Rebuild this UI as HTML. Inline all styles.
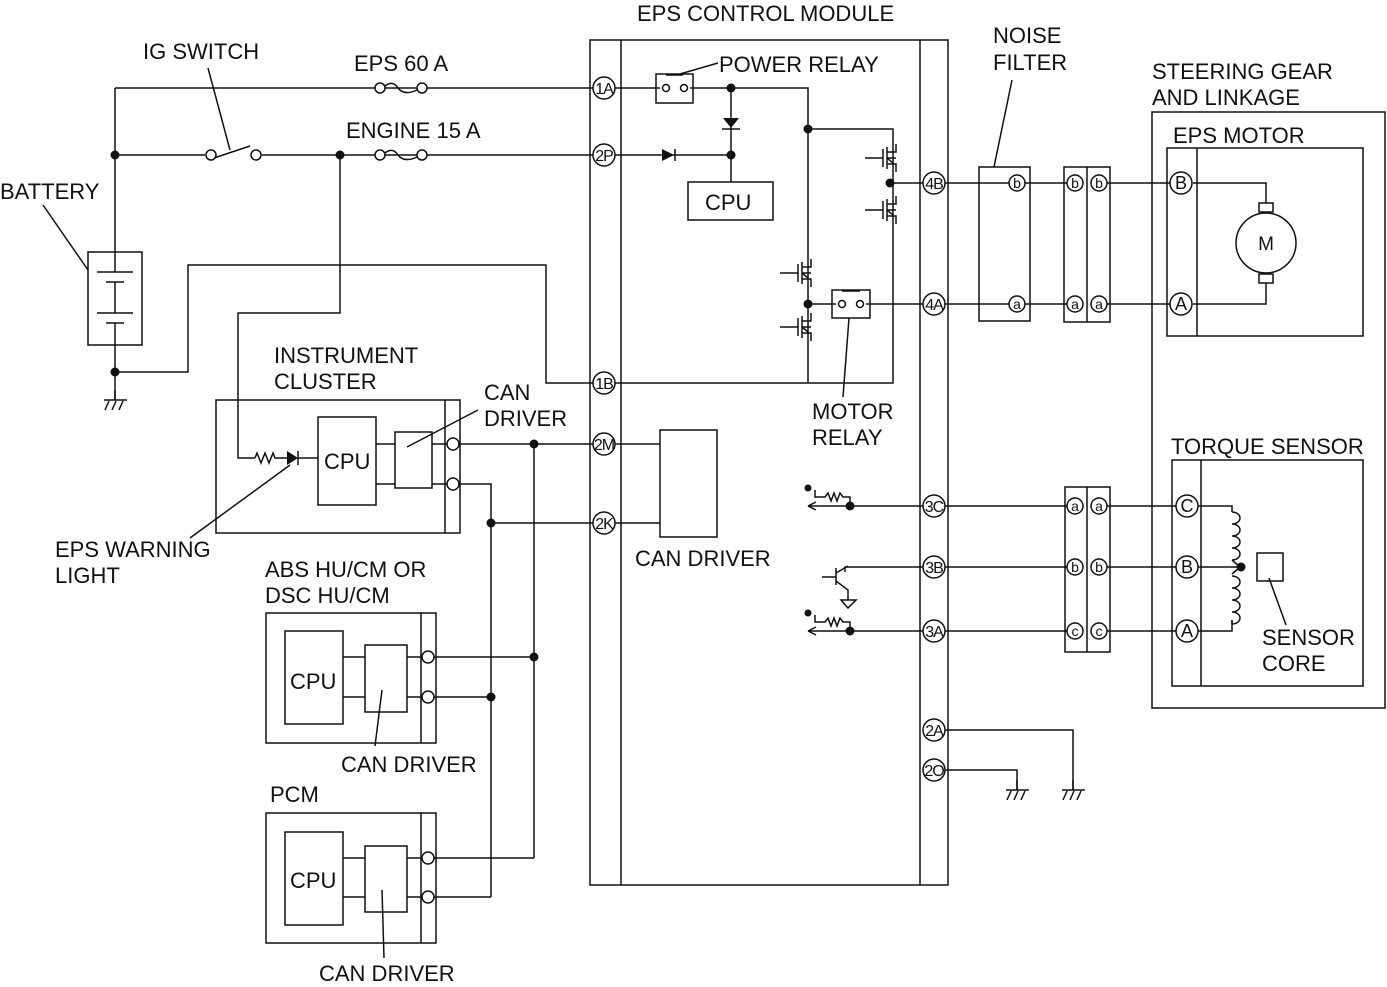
<!DOCTYPE html>
<html><head><meta charset="utf-8"><style>
html,body{margin:0;padding:0;background:#fff}
svg{display:block}
text{font-family:"Liberation Sans",sans-serif;font-size:22px;fill:#111}
.t{font-size:16px;text-anchor:middle;letter-spacing:-1px}
</style></head><body>
<svg width="1387" height="987" viewBox="0 0 1387 987" xmlns="http://www.w3.org/2000/svg">
<defs>
<g id="gnd"><line x1="0" y1="0" x2="0" y2="10" stroke="#111" stroke-width="1.5"/><line x1="-11" y1="10" x2="12" y2="10" stroke="#111" stroke-width="1.5"/><line x1="-6" y1="11" x2="-10" y2="20" stroke="#111" stroke-width="1.5"/><line x1="1" y1="11" x2="-3" y2="20" stroke="#111" stroke-width="1.5"/><line x1="8" y1="11" x2="4" y2="20" stroke="#111" stroke-width="1.5"/></g>
<g id="fuse" fill="#fff" stroke="#111" stroke-width="1.5"><circle cx="-21" cy="0" r="5"/><circle cx="21" cy="0" r="5"/><path d="M-16,-2 Q-8,-8 -3,0 Q3,8 16,2" fill="none"/></g>
<g id="fet" stroke="#111" stroke-width="1.5" fill="none"><line x1="-28" y1="0" x2="-10" y2="0"/><line x1="-10" y1="-9" x2="-10" y2="9"/><line x1="-6" y1="-11" x2="-6" y2="11"/><path d="M-6,-6 H3 V-14 M-6,6 H3 V14 M-6,0 l6,5 M-6,0 H3"/></g>
</defs>
<g stroke="#111" stroke-width="1.5" fill="none">
<rect x="590" y="40" width="358" height="845"/>
<line x1="621" y1="40" x2="621" y2="885"/><line x1="920" y1="40" x2="920" y2="885"/>
<path d="M115,88 H593 M115,88 V252 M115,345 V400 M115,155 H205 M262,155 H593 M340,155 V313 H238 V458 H255"/>
<path d="M115,372 H188 V265 H546 V383 H593"/>
<line x1="214" y1="158" x2="250" y2="146"/>
<line x1="230" y1="150" x2="208" y2="68"/>
<rect x="88" y="252" width="54" height="93"/>
<path d="M115,252 V272 M97,272 H133 M106,282 H124 M115,282 V313 M97,313 H133 M106,323 H124 M115,323 V345"/>
<line x1="88" y1="270" x2="43" y2="205"/>
<path d="M615,88 H660 M690,88 H808 V383 M615,383 H893 V129 H808 M893,183 H923 M808,304 H836 M866,304 H923 M615,155 H731 V182 M731,88 V155"/>
<rect x="656" y="74" width="37" height="29"/><line x1="666" y1="75" x2="683" y2="75"/>
<line x1="680" y1="74" x2="718" y2="63"/>
<rect x="832" y="290" width="38" height="28"/><line x1="842" y1="291" x2="860" y2="291"/>
<line x1="849" y1="318" x2="843" y2="397"/>
<rect x="688" y="182" width="85" height="38"/>
<line x1="722" y1="129" x2="740" y2="129"/>
<rect x="660" y="430" width="57" height="107"/>
<path d="M615,444 H660 M615,523 H660"/>
<rect x="216" y="400" width="244" height="133"/><line x1="445" y1="400" x2="445" y2="533"/>
<rect x="318" y="417" width="58" height="88"/><rect x="395" y="432" width="37" height="56"/>
<path d="M376,444 H395 M376,484 H395 M432,444 H447 M432,484 H447 M459,444 H593 M459,484 H491 V897 M491,523 H593 M534,444 V858"/>
<line x1="407" y1="447" x2="478" y2="410"/>
<line x1="290" y1="465" x2="190" y2="538"/>
<path d="M255,458 l2,-5 4,10 4,-10 4,10 4,-10 2,5 H287"/>
<path d="M298,458 H318"/>
<rect x="266" y="613" width="170" height="130"/><line x1="421" y1="613" x2="421" y2="743"/>
<rect x="285" y="631" width="58" height="93"/><rect x="365" y="645" width="42" height="67"/>
<path d="M343,657 H365 M343,697 H365 M407,657 H422 M407,697 H422 M434,657 H534 M434,697 H491"/>
<line x1="382" y1="690" x2="375" y2="746"/>
<rect x="266" y="813" width="170" height="130"/><line x1="421" y1="813" x2="421" y2="943"/>
<rect x="285" y="832" width="58" height="93"/><rect x="365" y="846" width="42" height="66"/>
<path d="M343,858 H365 M343,897 H365 M407,858 H422 M407,897 H422 M434,858 H534 M434,897 H491"/>
<line x1="382" y1="890" x2="384" y2="958"/>
<path d="M945,183 H1012 M1022,183 H1069 M945,304 H1012 M1022,304 H1069 M1104,183 H1175 M1104,304 H1175 M1193,183 H1266 V203 M1193,304 H1266 V283"/>
<rect x="979" y="167" width="51" height="154"/>
<line x1="994" y1="167" x2="1012" y2="80"/>
<rect x="1064" y="167" width="46" height="155"/><line x1="1087" y1="167" x2="1087" y2="322"/>
<rect x="1152" y="112" width="233" height="596"/>
<rect x="1167" y="148" width="196" height="188"/><line x1="1197" y1="148" x2="1197" y2="336"/>
<circle cx="1266" cy="243" r="30"/>
<rect x="1259" y="203" width="14" height="9"/><rect x="1259" y="274" width="14" height="9"/>
<rect x="1172" y="460" width="191" height="226"/><line x1="1201" y1="460" x2="1201" y2="686"/>
<rect x="1065" y="487" width="45" height="165"/><line x1="1087" y1="487" x2="1087" y2="652"/>
<path d="M945,506 H1069 M945,567 H1069 M945,631 H1069 M1104,506 H1176 M1104,567 H1176 M1104,631 H1176"/>
<path d="M1198,506 H1232 V512 M1198,567 H1241 M1198,631 H1232 V620"/>
<path d="M1232,512 a8,6 0 1,1 0,12 a8,6 0 1,1 0,12 a8,6 0 1,1 0,12 a8,6 0 1,1 0,12 M1232,560 l8,7 -8,7 M1232,576 a8,6 0 1,1 0,12 a8,6 0 1,1 0,12 a8,6 0 1,1 0,12 a8,6 0 1,1 0,12 M1232,624 V620"/>
<rect x="1257" y="553" width="26" height="28"/>
<line x1="1269" y1="578" x2="1286" y2="625"/>
<path d="M850,506 H923 M850,631 H923 M850,506 V497 H843 l-3,-4 -3,8 -3,-8 -3,8 -3,-8 -3,4 H815 V490 M808,506 H850 M808,506 l8,-4 M808,506 l8,4"/>
<path d="M850,631 V622 H843 l-3,-4 -3,8 -3,-8 -3,8 -3,-8 -3,4 H815 V615 M808,631 H850 M808,631 l8,-4 M808,631 l8,4"/>
<path d="M923,567 H845 V572 M836,568 V585 M822,577 H836 M836,573 L848,566 M836,581 L848,590 V600 M841,600 H856 L848,608 Z"/>
<path d="M945,730 H1073 V790 M945,770 H1017 V790"/>
</g>
<use href="#gnd" x="115" y="390"/>
<use href="#gnd" x="1017" y="780"/>
<use href="#gnd" x="1073" y="780"/>
<use href="#fuse" x="401" y="88"/>
<use href="#fuse" x="401" y="155"/>
<use href="#fet" x="893" y="158"/>
<use href="#fet" x="893" y="210"/>
<use href="#fet" x="808" y="273"/>
<use href="#fet" x="808" y="327"/>
<g fill="#111">
<circle cx="115" cy="155" r="4.5"/><circle cx="340" cy="155" r="4.5"/><circle cx="115" cy="372" r="4.5"/>
<circle cx="731" cy="88" r="4.5"/><circle cx="731" cy="155" r="4.5"/><circle cx="808" cy="129" r="4.5"/>
<circle cx="890" cy="183" r="4.5"/><circle cx="808" cy="304" r="4.5"/>
<circle cx="534" cy="444" r="4.5"/><circle cx="491" cy="523" r="4.5"/><circle cx="534" cy="657" r="4.5"/><circle cx="491" cy="697" r="4.5"/>
<circle cx="850" cy="506" r="4.5"/><circle cx="850" cy="631" r="4.5"/><circle cx="808" cy="488" r="3.5"/><circle cx="808" cy="613" r="3.5"/>
<circle cx="1241" cy="567" r="4.5"/>
<path d="M723,118 H739 L731,128 Z"/><path d="M662,149 V161 L674,155 Z"/><path d="M287,451 V465 L298,458 Z"/>
</g>
<g stroke="#111" stroke-width="1.5"><line x1="675" y1="149" x2="675" y2="161"/><line x1="298" y1="451" x2="298" y2="465"/></g>
<g fill="#fff" stroke="#111" stroke-width="1.5">
<circle cx="666" cy="88" r="3.5"/><circle cx="684" cy="88" r="3.5"/><circle cx="211" cy="155" r="5"/><circle cx="256" cy="155" r="5"/>
<circle cx="842" cy="304" r="3.5"/><circle cx="860" cy="304" r="3.5"/>
<circle cx="453" cy="444" r="6"/><circle cx="453" cy="484" r="6"/>
<circle cx="428" cy="657" r="6"/><circle cx="428" cy="697" r="6"/><circle cx="428" cy="858" r="6"/><circle cx="428" cy="897" r="6"/>
<circle cx="604" cy="88" r="11"/><circle cx="604" cy="155" r="11"/><circle cx="604" cy="383" r="11"/><circle cx="604" cy="444" r="11"/><circle cx="604" cy="523" r="11"/>
<circle cx="934" cy="183" r="11"/><circle cx="934" cy="304" r="11"/><circle cx="934" cy="506" r="11"/><circle cx="934" cy="567" r="11"/><circle cx="934" cy="631" r="11"/><circle cx="934" cy="730" r="11"/><circle cx="934" cy="770" r="11"/>
<circle cx="1017" cy="183" r="8"/><circle cx="1017" cy="304" r="8"/>
<circle cx="1075" cy="183" r="8"/><circle cx="1099" cy="183" r="8"/><circle cx="1075" cy="304" r="8"/><circle cx="1099" cy="304" r="8"/>
<circle cx="1075" cy="506" r="8"/><circle cx="1099" cy="506" r="8"/><circle cx="1075" cy="567" r="8"/><circle cx="1099" cy="567" r="8"/><circle cx="1075" cy="631" r="8"/><circle cx="1099" cy="631" r="8"/>
<circle cx="1181" cy="183" r="11"/><circle cx="1181" cy="304" r="11"/>
<circle cx="1187" cy="506" r="11"/><circle cx="1187" cy="567" r="11"/><circle cx="1187" cy="631" r="11"/>
</g>
<g>
<text class="t" x="604" y="94">1A</text><text class="t" x="604" y="161">2P</text><text class="t" x="604" y="389">1B</text><text class="t" x="604" y="450">2M</text><text class="t" x="604" y="529">2K</text>
<text class="t" x="934" y="189">4B</text><text class="t" x="934" y="310">4A</text><text class="t" x="934" y="512">3C</text><text class="t" x="934" y="573">3B</text><text class="t" x="934" y="637">3A</text><text class="t" x="934" y="736">2A</text><text class="t" x="934" y="776">2O</text>
<text class="t" x="1017" y="188" style="font-size:14px;letter-spacing:0">b</text><text class="t" x="1017" y="309" style="font-size:14px;letter-spacing:0">a</text>
<text class="t" x="1075" y="188" style="font-size:14px;letter-spacing:0">b</text><text class="t" x="1099" y="188" style="font-size:14px;letter-spacing:0">b</text><text class="t" x="1075" y="309" style="font-size:14px;letter-spacing:0">a</text><text class="t" x="1099" y="309" style="font-size:14px;letter-spacing:0">a</text>
<text class="t" x="1075" y="511" style="font-size:14px;letter-spacing:0">a</text><text class="t" x="1099" y="511" style="font-size:14px;letter-spacing:0">a</text><text class="t" x="1075" y="572" style="font-size:14px;letter-spacing:0">b</text><text class="t" x="1099" y="572" style="font-size:14px;letter-spacing:0">b</text><text class="t" x="1075" y="636" style="font-size:14px;letter-spacing:0">c</text><text class="t" x="1099" y="636" style="font-size:14px;letter-spacing:0">c</text>
<text class="t" x="1181" y="189" style="font-size:18px;letter-spacing:0">B</text><text class="t" x="1181" y="310" style="font-size:18px;letter-spacing:0">A</text>
<text class="t" x="1187" y="512" style="font-size:18px;letter-spacing:0">C</text><text class="t" x="1187" y="573" style="font-size:18px;letter-spacing:0">B</text><text class="t" x="1187" y="637" style="font-size:18px;letter-spacing:0">A</text>
<text class="t" x="1266" y="250" style="font-size:19px;letter-spacing:0">M</text>
</g>
<text x="637" y="21">EPS CONTROL MODULE</text>
<text x="143" y="59">IG SWITCH</text>
<text x="354" y="71">EPS 60 A</text>
<text x="346" y="138">ENGINE 15 A</text>
<text x="0" y="199">BATTERY</text>
<text x="719" y="72">POWER RELAY</text>
<text x="705" y="210">CPU</text>
<text x="993" y="43">NOISE</text><text x="993" y="70">FILTER</text>
<text x="1152" y="79">STEERING GEAR</text><text x="1152" y="105">AND LINKAGE</text>
<text x="1173" y="143">EPS MOTOR</text>
<text x="1171" y="454">TORQUE SENSOR</text>
<text x="1262" y="645">SENSOR</text><text x="1262" y="671">CORE</text>
<text x="812" y="419">MOTOR</text><text x="812" y="445">RELAY</text>
<text x="635" y="566">CAN DRIVER</text>
<text x="274" y="363">INSTRUMENT</text><text x="274" y="389">CLUSTER</text>
<text x="484" y="400">CAN</text><text x="484" y="426">DRIVER</text>
<text x="324" y="469">CPU</text>
<text x="55" y="557">EPS WARNING</text><text x="55" y="583">LIGHT</text>
<text x="265" y="577">ABS HU/CM OR</text><text x="265" y="603">DSC HU/CM</text>
<text x="290" y="689">CPU</text>
<text x="341" y="772">CAN DRIVER</text>
<text x="270" y="802">PCM</text>
<text x="290" y="888">CPU</text>
<text x="319" y="981">CAN DRIVER</text>
</svg>
</body></html>
